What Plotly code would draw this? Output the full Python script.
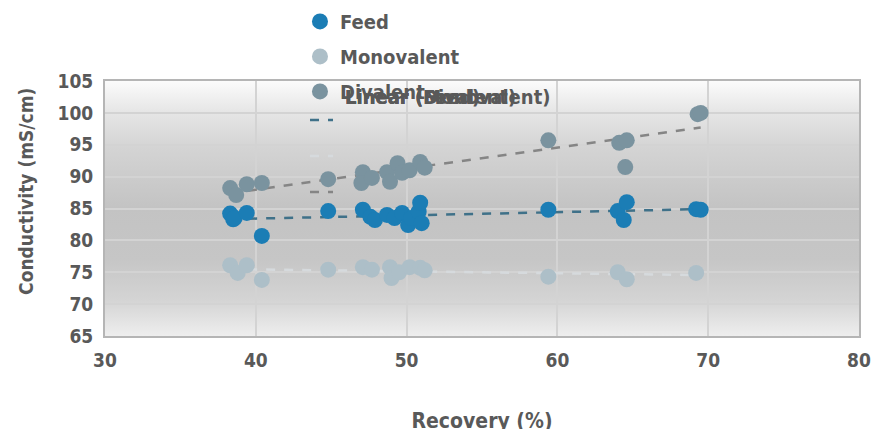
import base64
import numpy as np
import plotly.graph_objects as go

# ---- data ----
feed_x = [38.3, 38.5, 38.6, 39.4, 40.4, 44.8, 47.1, 47.6, 47.9, 48.7, 49.2, 49.7,
          50.1, 50.3, 50.8, 50.9, 51.0, 59.4, 64.0, 64.4, 64.6, 69.2, 69.5]
feed_y = [84.2, 83.3, 83.5, 84.3, 80.7, 84.6, 84.8, 83.7, 83.2, 84.0, 83.5, 84.3,
          82.4, 83.5, 84.5, 85.9, 82.7, 84.8, 84.6, 83.2, 86.0, 84.9, 84.8]

mono_x = [38.3, 38.8, 39.4, 40.4, 44.8, 47.1, 47.7, 48.9, 49.0, 49.5, 50.2, 50.9,
          51.2, 59.4, 64.0, 64.6, 69.2]
mono_y = [76.1, 74.9, 76.1, 73.8, 75.4, 75.8, 75.4, 75.8, 74.1, 75.0, 75.8, 75.7,
          75.3, 74.3, 75.0, 73.9, 74.9]

div_x = [38.3, 38.7, 39.4, 40.4, 44.8, 47.1, 47.0, 47.7, 48.7, 48.9, 49.4, 49.7,
         50.2, 50.9, 51.2, 59.4, 64.1, 64.6, 64.5, 69.3, 69.5]
div_y = [88.2, 87.1, 88.8, 89.0, 89.6, 90.7, 89.0, 89.8, 90.7, 89.2, 92.1, 90.6,
         91.0, 92.3, 91.4, 95.7, 95.3, 95.7, 91.5, 99.8, 100.0]

series_names = ["Feed", "Monovalent", "Divalent"]
trend_names = ["Linear (Feed)", "Linear (Monovalent)", "Linear (Divalent)"]
x_ticks = [30, 40, 50, 60, 70, 80]
y_ticks = [65, 70, 75, 80, 85, 90, 95, 100, 105]
x_title = "Recovery (%)"
y_title = "Conductivity (mS/cm)"

# ---- styles ----
FONT = "Liberation Sans Narrow, DejaVu Sans Condensed, Arial Narrow, sans-serif"
TXT = "#595959"
marker_colors = ["#1b7db5", "#adbfc8", "#7a939f"]
trend_colors = ["#3f7189", "#d6dadd", "#858585"]

fig = go.Figure()

data = [(feed_x, feed_y), (mono_x, mono_y), (div_x, div_y)]

# trendlines (drawn first, below markers)
for i, (xs, ys) in enumerate(data):
    a, b = np.polyfit(xs, ys, 1)
    tx = [min(xs), max(xs)]
    ty = [a * v + b for v in tx]
    fig.add_trace(go.Scatter(
        x=tx, y=ty, mode="lines", name=trend_names[i], showlegend=False,
        line=dict(color=trend_colors[i], width=2.5, dash="dash"),
        hoverinfo="skip",
    ))

for i, (xs, ys) in enumerate(data):
    fig.add_trace(go.Scatter(
        x=xs, y=ys, mode="markers", name=series_names[i],
        marker=dict(color=marker_colors[i], size=16, line=dict(width=0)),
        legendgroup="m%d" % i,
    ))

# gradient background for the plot area
svg = (
    '<svg xmlns="http://www.w3.org/2000/svg" width="100" height="100" preserveAspectRatio="none">'
    '<defs><linearGradient id="g" x1="0" y1="0" x2="0" y2="1">'
    '<stop offset="0" stop-color="#fbfbfb"/>'
    '<stop offset="0.12" stop-color="#e6e6e6"/>'
    '<stop offset="0.26" stop-color="#d4d4d4"/>'
    '<stop offset="0.5" stop-color="#c3c3c3"/>'
    '<stop offset="0.7" stop-color="#c6c6c6"/>'
    '<stop offset="0.86" stop-color="#d4d4d4"/>'
    '<stop offset="1" stop-color="#eeeeee"/>'
    '</linearGradient></defs>'
    '<rect width="100" height="100" fill="url(#g)"/></svg>'
)
uri = "data:image/svg+xml;base64," + base64.b64encode(svg.encode()).decode()
fig.add_layout_image(dict(source=uri, xref="paper", yref="paper", x=0, y=1,
                          sizex=1, sizey=1, sizing="stretch", layer="below"))

# overlapping trendline legend texts (as in the reference)
for name in trend_names:
    fig.add_annotation(text=name, xref="paper", yref="paper", x=0.3156, y=0.937,
                       xanchor="left", yanchor="middle", showarrow=False,
                       font=dict(family=FONT, size=20, color=TXT, weight="bold"))

# trendline legend keys (dash icons)
for i, yk in enumerate([0.847, 0.706, 0.565]):
    fig.add_shape(type="line", xref="paper", yref="paper",
                  x0=0.2719, x1=0.3024, y0=yk, y1=yk,
                  line=dict(color=trend_colors[i], width=2.5, dash="dash"))

# y-axis title (placed slightly above the axis centre, as in the reference)
fig.add_annotation(text=y_title, xref="paper", yref="paper", x=-0.1048, y=0.569,
                   xanchor="center", yanchor="middle", textangle=-90, showarrow=False,
                   font=dict(family=FONT, size=19, color=TXT, weight="bold"))

axis_common = dict(
    showgrid=True, gridcolor="#d3d3d3", gridwidth=2,
    showline=True, linecolor="#b5b5b5", linewidth=2, mirror=True,
    zeroline=False, ticks="",
    tickfont=dict(family=FONT, size=19, color=TXT, weight="bold"),
)

fig.update_layout(
    width=886, height=429,
    margin=dict(l=97, r=35, t=73, b=101, autoexpand=False),
    paper_bgcolor="white",
    plot_bgcolor="rgba(0,0,0,0)",
    showlegend=True,
    legend=dict(x=0.2586, y=1.31, xanchor="left", yanchor="top",
                bgcolor="rgba(0,0,0,0)", traceorder="grouped", tracegroupgap=6,
                font=dict(family=FONT, size=20, color=TXT, weight="bold")),
    xaxis=dict(range=[30, 80], tickvals=x_ticks, ticklabelstandoff=6,
               title=dict(text=x_title, standoff=44,
                          font=dict(family=FONT, size=21, color=TXT, weight="bold")),
               **axis_common),
    yaxis=dict(range=[65, 105], tickvals=y_ticks, ticklabelstandoff=6,
               **axis_common),
)

fig.write_html("out.html")
